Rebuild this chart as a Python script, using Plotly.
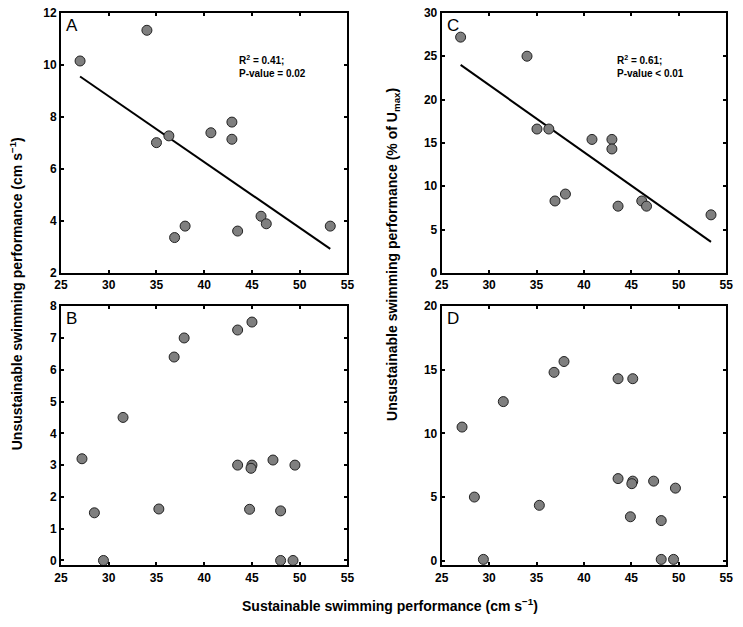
import numpy as np
import plotly.graph_objects as go

# Panel A: unsustainable swimming performance (cm s-1) vs sustainable
a_x = [27.0, 34.0, 36.3, 35.0, 40.7, 42.9, 42.9, 36.9, 38.0, 43.5, 45.95, 46.5, 53.2]
a_y = [10.15, 11.33, 7.27, 7.01, 7.39, 7.8, 7.14, 3.36, 3.8, 3.61, 4.18, 3.89, 3.8]

# Panel C: unsustainable (% of Umax)
c_x = [27.0, 34.0, 35.05, 36.3, 40.85, 42.95, 42.95, 36.95, 38.05, 43.6, 46.1, 46.6, 53.4]
c_y = [27.2, 25.0, 16.6, 16.6, 15.4, 15.4, 14.3, 8.3, 9.1, 7.7, 8.3, 7.7, 6.7]

# Panel B
b_x = [27.2, 28.5, 29.45, 31.5, 35.25, 36.85, 37.9, 43.5, 45.0, 43.5, 45.0, 44.9, 44.75, 47.2, 49.5, 48.0, 48.0, 49.3]
b_y = [3.2, 1.5, 0.0, 4.5, 1.62, 6.4, 7.0, 7.25, 7.5, 3.0, 3.0, 2.9, 1.61, 3.16, 3.0, 1.56, 0.0, 0.0]

# Panel D
d_x = [27.15, 28.45, 29.4, 31.5, 35.3, 36.85, 37.9, 43.6, 45.15, 43.6, 45.15, 45.05, 44.9, 47.35, 49.65, 48.15, 48.15, 49.45]
d_y = [10.5, 5.0, 0.1, 12.5, 4.35, 14.8, 15.65, 14.3, 14.3, 6.45, 6.25, 6.05, 3.45, 6.25, 5.7, 3.15, 0.1, 0.1]

x_ticks = [25, 30, 35, 40, 45, 50, 55]
stats_a = "R<sup>2</sup> = 0.41;<br>P-value = 0.02"
stats_c = "R<sup>2</sup> = 0.61;<br>P-value < 0.01"

W, H = 743, 627
FONT = "Liberation Sans"

def px_x(a, b):
    return [a / W, b / W]

def px_y(top, bottom):
    return [1 - bottom / H, 1 - top / H]

fig = go.Figure()

marker = dict(size=10, color="#7f7f7f", line=dict(color="#222222", width=1))

def add_panel(xs, ys, n, fit):
    xa = "x" if n == 1 else f"x{n}"
    ya = "y" if n == 1 else f"y{n}"
    if fit:
        k, b = np.polyfit(xs, ys, 1)
        lx = np.array([min(xs), max(xs)])
        fig.add_trace(go.Scatter(x=lx, y=k * lx + b, mode="lines",
                                 line=dict(color="black", width=2),
                                 xaxis=xa, yaxis=ya, showlegend=False, hoverinfo="skip"))
    fig.add_trace(go.Scatter(x=xs, y=ys, mode="markers", marker=marker,
                             xaxis=xa, yaxis=ya, showlegend=False))

add_panel(a_x, a_y, 1, True)
add_panel(b_x, b_y, 2, False)
add_panel(c_x, c_y, 3, True)
add_panel(d_x, d_y, 4, False)

tickfont = dict(family=FONT, size=12, color="black", weight="bold")
common = dict(showline=True, linecolor="black", linewidth=2, mirror="ticks",
              ticks="inside", ticklen=3, tickwidth=1.5, tickcolor="black",
              showgrid=False, zeroline=False, tickfont=tickfont,
              ticklabeloverflow="allow")

def xa(dom, anchor):
    return dict(domain=dom, anchor=anchor, range=[25, 55], tickvals=x_ticks, **common)

def ya(dom, anchor, rng, dtick):
    return dict(domain=dom, anchor=anchor, range=rng, dtick=dtick, tick0=0, **common)

left = px_x(55, 347)
right = px_x(443, 733)
top = px_y(6, 272)
bot = px_y(306, 571)

fig.update_layout(
    width=W, height=H,
    margin=dict(l=0, r=0, t=0, b=0),
    paper_bgcolor="white", plot_bgcolor="white",
    font=dict(family=FONT, color="black"),
    xaxis=xa(left, "y"), yaxis=ya(top, "x", [2, 12], 2),
    xaxis2=xa(left, "y2"), yaxis2=ya(bot, "x2", [-0.15, 8], 1),
    xaxis3=xa(right, "y3"), yaxis3=ya(top, "x3", [0, 30], 5),
    xaxis4=xa(right, "y4"), yaxis4=ya(bot, "x4", [-0.36, 20], 5),
)

ann = []
for n, lab in zip([1, 2, 3, 4], ["A", "B", "C", "D"]):
    s = "" if n == 1 else str(n)
    ann.append(dict(text=lab, xref=f"x{s} domain", yref=f"y{s} domain", x=0.012, y=0.995,
                    xanchor="left", yanchor="top", showarrow=False,
                    font=dict(family=FONT, size=17, color="black")))
ann.append(dict(text="<b>" + stats_a + "</b>", xref="x domain", yref="y domain",
                x=0.615, y=0.795, xanchor="left", yanchor="middle", align="left",
                showarrow=False, font=dict(family=FONT, size=10, color="black")))
ann.append(dict(text="<b>" + stats_c + "</b>", xref="x3 domain", yref="y3 domain",
                x=0.61, y=0.795, xanchor="left", yanchor="middle", align="left",
                showarrow=False, font=dict(family=FONT, size=10, color="black")))
ann.append(dict(text="<b>Unsustainable swimming performance (cm s<sup>−1</sup>)</b>",
                xref="paper", yref="paper", x=10 / W, y=1 - 293 / H, textangle=-90,
                showarrow=False, xanchor="center", yanchor="middle",
                font=dict(family=FONT, size=14, color="black")))
ann.append(dict(text="<b>Unsustainable swimming performance (% of U<sub>max</sub>)</b>",
                xref="paper", yref="paper", x=394 / W, y=1 - 253 / H, textangle=-90,
                showarrow=False, xanchor="center", yanchor="middle",
                font=dict(family=FONT, size=14, color="black")))
ann.append(dict(text="<b>Sustainable swimming performance (cm s<sup>−1</sup>)</b>",
                xref="paper", yref="paper", x=390 / W, y=1 - 612 / H,
                showarrow=False, xanchor="center", yanchor="middle",
                font=dict(family=FONT, size=14, color="black")))
fig.update_layout(annotations=ann)

fig.write_html("out.html", config={"displayModeBar": False},
               post_script="document.body.style.margin='0px';document.body.style.overflow='hidden';")
